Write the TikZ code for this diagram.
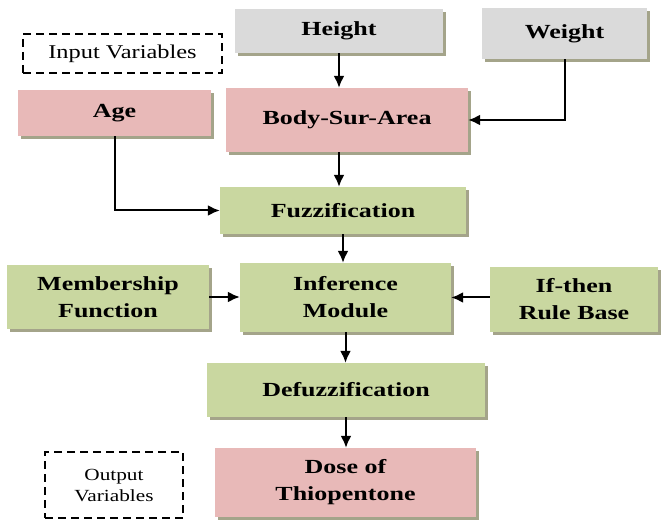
\documentclass[tikz,border=0pt]{standalone}
\usepackage{fontspec}
\setmainfont{Liberation Serif}
\newfontfamily\boxfont{Liberation Serif}[FakeStretch=1.3]
\newfontfamily\legendfont{Liberation Serif}[FakeStretch=1.25]
\usetikzlibrary{arrows.meta, shadows, positioning}

\definecolor{inputgray}{HTML}{DADADA}
\definecolor{varpink}{HTML}{E8B9B8}
\definecolor{fuzzgreen}{HTML}{C9D7A0}
\definecolor{shadowolive}{HTML}{A4A48A}

\begin{document}
\begin{tikzpicture}[
      x=1pt, y=-1pt,
      every node/.style={font=\boxfont\fontsize{20}{27}\selectfont\bfseries, align=center, inner sep=2pt},
      block/.style={rectangle, draw=none, drop shadow={shadow xshift=3pt, shadow yshift=-3pt, fill=shadowolive, opacity=1}},
      inbox/.style={block, fill=inputgray},
      varbox/.style={block, fill=varpink},
      fuzzbox/.style={block, fill=fuzzgreen},
      legend/.style={draw, line width=2pt, dash pattern=on 8pt off 5pt},
      arr/.style={line width=2pt, -{Latex[length=12pt,width=11pt]}}
    ]
      \useasboundingbox (0,0) rectangle (661,526);

      % inputs
      \node[inbox, minimum width=208pt, minimum height=44pt] (height) at (339,31) {Height};
      \node[inbox, minimum width=165pt, minimum height=51pt] (weight) at (564.5,33.5) {Weight};
      \node[legend, minimum width=199pt, minimum height=39pt,
            font=\legendfont\fontsize{19.5}{21}\selectfont] (invars) at (122.5,53.5) {Input Variables};
      \node[varbox, minimum width=193pt, minimum height=46pt] (age) at (114.5,113) {Age};
      \node[varbox, minimum width=242pt, minimum height=64pt] (bsa) at (347,120) {Body-Sur-Area};

      % fuzzy system
      \node[fuzzbox, minimum width=246pt, minimum height=47pt] (fuzz) at (343,210.5) {Fuzzification};
      \node[fuzzbox, minimum width=202pt, minimum height=64pt] (member) at (108,297) {Membership\\Function};
      \node[fuzzbox, minimum width=211pt, minimum height=69pt] (infer) at (345.5,297.5) {Inference\\Module};
      \node[fuzzbox, minimum width=168pt, minimum height=65pt] (ifthen) at (574,299.5) {If-then\\Rule Base};
      \node[fuzzbox, minimum width=278pt, minimum height=54pt] (defuzz) at (346,390) {Defuzzification};

      % output
      \node[varbox, minimum width=261pt, minimum height=69pt] (dose) at (345.5,482.5) {Dose of\\Thiopentone};
      \node[legend, minimum width=138pt, minimum height=66pt,
            font=\legendfont\fontsize{17}{21}\selectfont] (outvars) at (114,485) {Output\\Variables};

      \draw[arr] (height.south) -- (height.south |- bsa.north);
      \draw[arr] (weight.south) |- (bsa.east);
      \draw[arr] (height.south |- bsa.south) -- (height.south |- fuzz.north);
      \draw[arr] (age.south) |- (fuzz.west);
      \draw[arr] (fuzz.south) -- (fuzz.south |- infer.north);
      \draw[arr] (member.east) -- (member.east -| infer.west);
      \draw[arr] (ifthen.west |- infer.east) -- (infer.east);
      \draw[arr] (infer.south) -- (infer.south |- defuzz.north);
      \draw[arr] (defuzz.south) -- (defuzz.south |- dose.north);
\end{tikzpicture}
\end{document}
